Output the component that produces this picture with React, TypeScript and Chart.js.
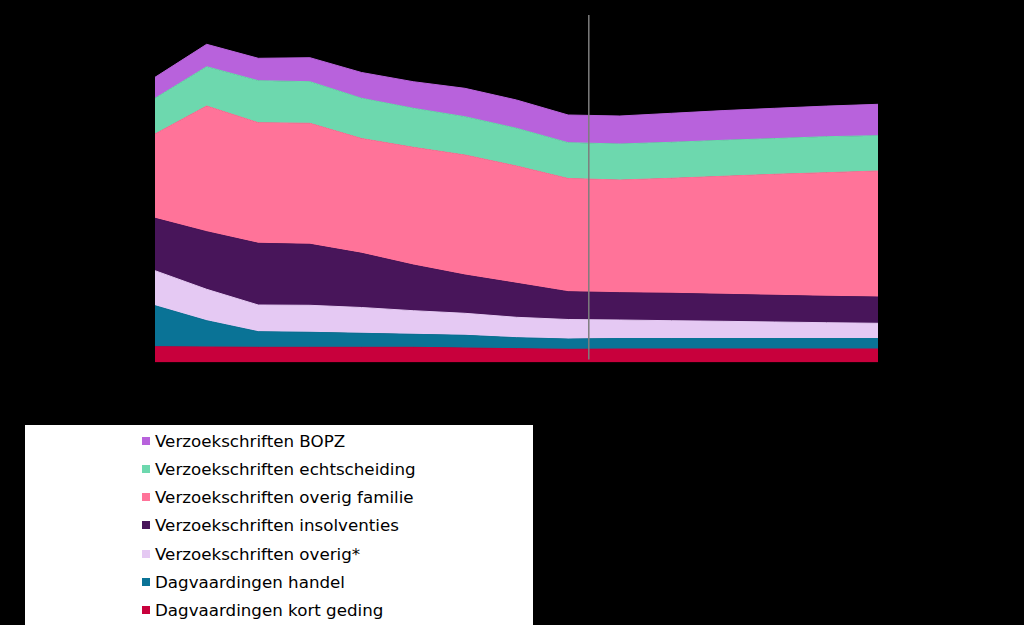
import React, { useEffect, useRef } from "react";
import { Chart, registerables } from "chart.js";

Chart.register(...registerables);

// Years (x categories; axis labels are not shown in the reference)
const years = [
  "2008", "2009", "2010", "2011", "2012", "2013", "2014", "2015",
  "2016", "2017", "2018", "2019", "2020", "2021", "2022",
];

// Series values (x 1 000 cases), stacked bottom → top
const kortGeding = [15.8, 15.5, 15.2, 15.2, 15.2, 15.2, 14.5, 13.8, 13.2, 13.5, 13.5, 13.5, 13.5, 13.5, 13.5];
const handel = [41.0, 26.3, 15.6, 15.0, 14.0, 13.0, 12.7, 11.0, 10.3, 10.5, 10.5, 10.5, 10.5, 10.5, 10.5];
const overig = [35.0, 31.4, 26.7, 27.0, 25.8, 23.6, 22.0, 20.4, 19.5, 18.5, 17.8, 17.2, 16.5, 15.8, 15.2];
const insolventies = [52.4, 57.6, 61.7, 61.0, 54.2, 45.7, 38.3, 34.0, 27.8, 27.3, 27.4, 27.0, 26.7, 26.4, 26.3];
const overigFamilie = [84.3, 125.7, 120.6, 121.0, 114.8, 117.7, 120.0, 117.3, 113.2, 112.7, 115.0, 118.0, 121.0, 123.6, 126.0];
const echtscheiding = [35.7, 39.3, 42.0, 41.6, 40.2, 39.0, 38.3, 37.7, 35.8, 36.0, 36.0, 36.0, 35.7, 36.0, 35.3];
const bopz = [21.0, 22.4, 22.4, 24.0, 25.8, 26.6, 28.4, 28.3, 27.7, 28.0, 29.0, 29.7, 30.3, 30.6, 31.4];

const seriesLabels = [
  "Dagvaardingen kort geding",
  "Dagvaardingen handel",
  "Verzoekschriften overig*",
  "Verzoekschriften insolventies",
  "Verzoekschriften overig familie",
  "Verzoekschriften echtscheiding",
  "Verzoekschriften BOPZ",
];
const seriesValues = [kortGeding, handel, overig, insolventies, overigFamilie, echtscheiding, bopz];
const seriesColors = ["#C8003C", "#0A7396", "#E5C9F3", "#48155A", "#FF7399", "#6DD8AE", "#B862DC"];

// Divider between realised and forecast years (position on the category index axis)
const dividerAt = 8.4;
const yMax = 350;

const dividerPlugin = {
  id: "divider",
  afterDatasetsDraw(chart: any) {
    const { ctx, chartArea, scales } = chart;
    const x = scales.x.getPixelForValue(dividerAt);
    ctx.save();
    ctx.strokeStyle = "#7d7d7d";
    ctx.lineWidth = 1.5;
    ctx.beginPath();
    ctx.moveTo(x, chartArea.top + 2.5);
    ctx.lineTo(x, chartArea.bottom - 3);
    ctx.stroke();
    ctx.restore();
  },
};

export default function App() {
  const canvasRef = useRef<HTMLCanvasElement | null>(null);

  useEffect(() => {
    if (!canvasRef.current) return;
    const chart = new Chart(canvasRef.current, {
      type: "line",
      data: {
        labels: years,
        datasets: seriesValues.map((vals, i) => ({
          label: seriesLabels[i],
          data: vals,
          backgroundColor: seriesColors[i],
          borderColor: seriesColors[i],
          borderWidth: 1,
          pointRadius: 0,
          tension: 0,
          fill: i === 0 ? "origin" : "-1",
        })),
      },
      options: {
        responsive: false,
        animation: false,
        layout: { padding: { left: 155, right: 146, top: 12.5, bottom: 262.5 } },
        scales: {
          x: { display: false, offset: false },
          y: { display: false, stacked: true, min: 0, max: yMax },
        },
        plugins: {
          legend: { display: false },
          tooltip: { enabled: false },
        },
      },
      plugins: [dividerPlugin],
    });
    return () => chart.destroy();
  }, []);

  const legendOrder = seriesLabels.map((_, i) => i).reverse();

  return (
    <div
      style={{
        position: "fixed",
        left: 0,
        top: 0,
        width: 1024,
        height: 625,
        background: "#000",
        overflow: "hidden",
      }}
    >
      <canvas ref={canvasRef} width={1024} height={625} style={{ position: "absolute", left: 0, top: 0 }} />
      <div
        style={{
          position: "absolute",
          left: 25,
          top: 425,
          width: 508,
          height: 200,
          background: "#fff",
          fontFamily: "'DejaVu Sans', Verdana, sans-serif",
          fontSize: 16.7,
          color: "#000",
        }}
      >
        {legendOrder.map((idx, row) => (
          <div
            key={idx}
            style={{
              position: "absolute",
              left: 117,
              top: 15.7 + row * 28.2 - 10,
              height: 20,
              display: "flex",
              alignItems: "center",
              whiteSpace: "nowrap",
            }}
          >
            <span
              style={{
                display: "inline-block",
                width: 8,
                height: 8,
                background: seriesColors[idx],
                marginRight: 5,
              }}
            />
            <span>{seriesLabels[idx]}</span>
          </div>
        ))}
      </div>
    </div>
  );
}
